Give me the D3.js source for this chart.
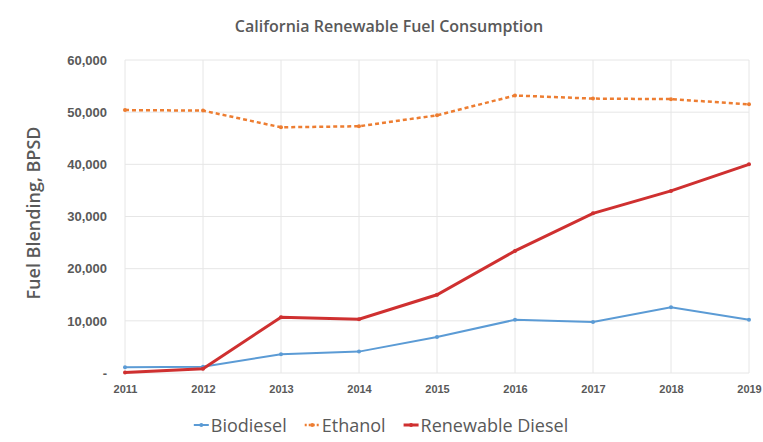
<!DOCTYPE html>
<html>
<head>
<script src="https://d3js.org/d3.v7.min.js"></script>
<style>
	body { margin: 0; background: #fff; }
	svg { font-family: "Open Sans", sans-serif; }
	.grid line { stroke: #e6e6e6; stroke-width: 1; }
	.tick text { fill: #595959; font-weight: 600; }
</style>
</head>
<body>
<svg class="chart" width="763" height="442"></svg>
<script>
var years = [2011, 2012, 2013, 2014, 2015, 2016, 2017, 2018, 2019];
var biodiesel = [1100, 1200, 3600, 4100, 6900, 10200, 9800, 12600, 10200];
var ethanol = [50400, 50300, 47100, 47300, 49400, 53200, 52600, 52500, 51500];
var renewableDiesel = [100, 800, 10700, 10300, 15000, 23400, 30600, 34900, 40000];
var yTicks = [0, 10000, 20000, 30000, 40000, 50000, 60000];

var series = [
	{name: "Biodiesel", values: biodiesel, color: "#5B9BD5", width: 2, dash: null},
	{name: "Ethanol", values: ethanol, color: "#ED7D31", width: 2.5, dash: "4,3"},
	{name: "Renewable Diesel", values: renewableDiesel, color: "#CF3030", width: 3, dash: null}
];

var svg = d3.select(".chart");
var pLeft = 125, pRight = 749, pTop = 60, pBottom = 373;

var x = d3.scaleLinear().domain([2011, 2019]).range([pLeft, pRight]);
var y = d3.scaleLinear().domain([0, 60000]).range([pBottom, pTop]);

// gridlines
var grid = svg.append("g").attr("class", "grid");
grid.selectAll(".h").data(yTicks).enter().append("line")
	.attr("x1", pLeft).attr("x2", pRight)
	.attr("y1", function(d) { return y(d); }).attr("y2", function(d) { return y(d); });
grid.selectAll(".v").data(years).enter().append("line")
	.attr("y1", pTop).attr("y2", pBottom)
	.attr("x1", function(d) { return x(d); }).attr("x2", function(d) { return x(d); });

// axes
var fmt = d3.format(",");
svg.append("g")
	.attr("transform", "translate(" + (pLeft - 14) + ",0)")
	.call(d3.axisLeft(y).tickValues(yTicks).tickSize(0).tickPadding(4)
		.tickFormat(function(d) { return d === 0 ? "-" : fmt(d); }))
	.call(function(g) { g.select(".domain").remove(); })
	.selectAll("text").style("font-size", "13px");

svg.append("g")
	.attr("transform", "translate(0," + (pBottom + 8) + ")")
	.call(d3.axisBottom(x).tickValues(years).tickSize(0).tickPadding(4).tickFormat(d3.format("d")))
	.call(function(g) { g.select(".domain").remove(); })
	.selectAll("text").style("font-size", "11px");

// lines
var line = d3.line()
	.x(function(d, i) { return x(years[i]); })
	.y(function(d) { return y(d); });

series.forEach(function(s) {
	svg.append("path")
		.datum(s.values)
		.attr("fill", "none")
		.attr("stroke", s.color)
		.attr("stroke-width", s.width)
		.attr("stroke-dasharray", s.dash)
		.attr("d", line);
	svg.selectAll(null).data(s.values).enter().append("circle")
		.attr("cx", function(d, i) { return x(years[i]); })
		.attr("cy", function(d) { return y(d); })
		.attr("r", 2)
		.attr("fill", s.color);
});

// title
svg.append("text")
	.attr("x", 389).attr("y", 32)
	.attr("text-anchor", "middle")
	.style("font-size", "16px").style("font-weight", "600").style("fill", "#595959")
	.text("California Renewable Fuel Consumption");

// y label
svg.append("text")
	.attr("transform", "translate(40,213) rotate(-90)")
	.attr("text-anchor", "middle")
	.style("font-size", "18px").style("font-weight", "600").style("fill", "#595959")
	.text("Fuel Blending, BPSD");

// legend, laid out by measured width
var legend = svg.append("g");
var items = legend.selectAll("g").data(series).enter().append("g");
items.append("line")
	.attr("x1", 0).attr("x2", 15).attr("y1", 0).attr("y2", 0)
	.attr("stroke", function(d) { return d.color; })
	.attr("stroke-width", function(d) { return d.width; })
	.attr("stroke-dasharray", function(d) { return d.dash ? "2,2" : null; });
items.append("circle").attr("cx", 7.5).attr("r", 2)
	.attr("fill", function(d) { return d.color; });
items.append("text")
	.attr("x", 17).attr("y", 6.5)
	.style("font-size", "18px").style("font-weight", "500").style("fill", "#595959")
	.text(function(d) { return d.name; });
var cx = 0;
items.each(function() {
	d3.select(this).attr("transform", "translate(" + cx + ",0)");
	cx += this.getBBox().width + 18;
});
cx -= 18;
legend.attr("transform", "translate(" + (381 - cx / 2) + ",425)");
</script>
</body>
</html>
